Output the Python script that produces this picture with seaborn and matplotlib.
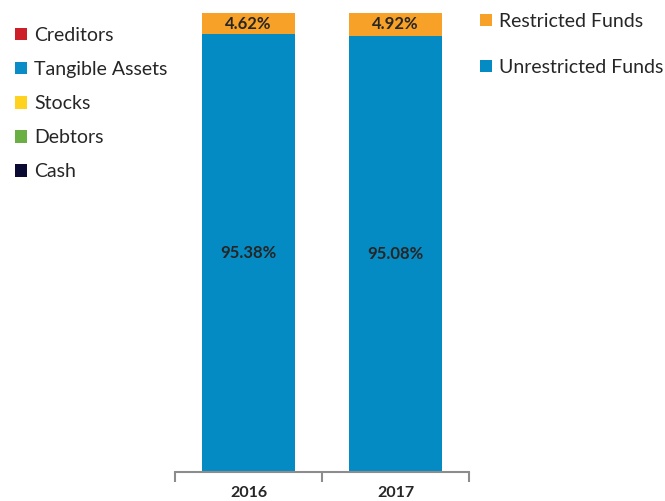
import matplotlib
matplotlib.use("Agg")
import matplotlib.pyplot as plt
import seaborn as sns
import pandas as pd
from matplotlib.patches import Patch

sns.set_theme(style="white")
plt.rcParams['font.family'] = ['Lato', 'DejaVu Sans']

years = ["2016", "2017"]
unrestricted = [95.38, 95.08]
restricted = [4.62, 4.92]
left_legend = ["Creditors", "Tangible Assets", "Stocks", "Debtors", "Cash"]
left_colors = ["#CC1F2A", "#0A8CC6", "#FFD21F", "#6AAF44", "#0B0A33"]
right_legend = ["Restricted Funds", "Unrestricted Funds"]
blue = "#058BC4"
orange = "#F7A128"

df = pd.DataFrame({"year": years, "unrestricted": unrestricted, "restricted": restricted})

fig = plt.figure(figsize=(6.65, 5.01), dpi=100)
ax = fig.add_axes([175/665, (501-472)/501, (469-175)/665, (472-13)/501])

sns.barplot(data=df, x="year", y="unrestricted", color=blue, width=0.626, ax=ax,
            saturation=1, linewidth=0)
sns.barplot(data=df, x="year", y="restricted", bottom=df["unrestricted"], color=orange,
            width=0.626, ax=ax, saturation=1, linewidth=0)

for i, (u, r) in enumerate(zip(unrestricted, restricted)):
    ax.text(i, u / 2, f"{u:.2f}%", ha="center", va="center", fontsize=12,
            fontweight="bold", color="#262626")
    ax.text(i, u + r / 2, f"{r:.2f}%", ha="center", va="center", fontsize=12,
            fontweight="bold", color="#262626")

ax.set_ylim(0, 100)
ax.set_xlim(-0.5, 1.5)
ax.set_xlabel("")
ax.set_ylabel("")
ax.set_yticks([])
for s in ["top", "left", "right"]:
    ax.spines[s].set_visible(False)
ax.spines["bottom"].set_color("#8C8C8C")
ax.spines["bottom"].set_linewidth(1.5)
ax.set_xticks([0, 1])
ax.set_xticklabels(years, fontsize=11.5, fontweight="bold", color="#262626")
ax.tick_params(axis="x", which="major", length=0, pad=10)
ax.set_xticks([-0.5, 0.5, 1.5], minor=True)
ax.tick_params(axis="x", which="minor", length=7, width=1.5, color="#8C8C8C", bottom=True)

lh = [Patch(facecolor=c, edgecolor="none") for c in left_colors]
fig.legend(lh, left_legend, loc="upper left", bbox_to_anchor=(15/665, 1 - 27/501),
           frameon=False, fontsize=14, handlelength=0.6, handleheight=0.6,
           handletextpad=0.4, labelspacing=0.88, borderaxespad=0, borderpad=0)

rh = [Patch(facecolor=c, edgecolor="none") for c in [orange, blue]]
fig.legend(rh, right_legend, loc="upper left", bbox_to_anchor=(480/665, 1 - 13/501),
           frameon=False, fontsize=14, handlelength=0.6, handleheight=0.6,
           handletextpad=0.4, labelspacing=1.5, borderaxespad=0, borderpad=0)

fig.savefig("out.png", dpi=100)
